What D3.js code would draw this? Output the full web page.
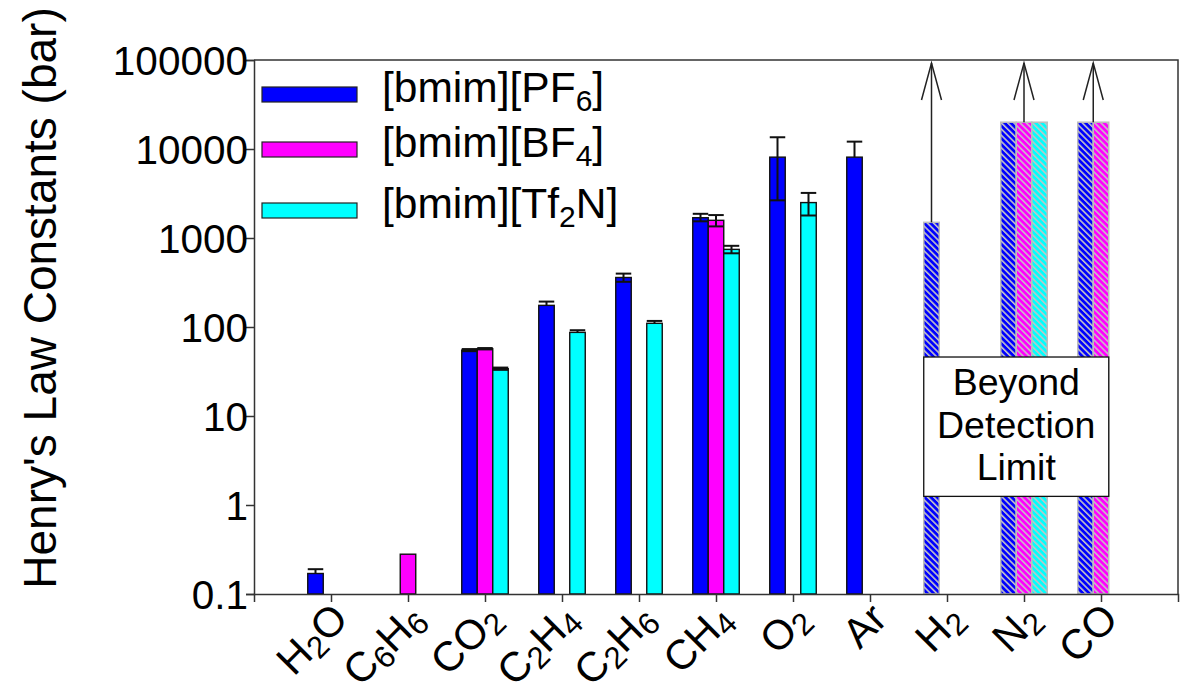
<!DOCTYPE html>
<html><head><meta charset="utf-8">
<script src="https://cdn.jsdelivr.net/npm/d3@7"></script>
<style>html,body{margin:0;padding:0;background:#fff;}svg{display:block;font-family:"Liberation Sans",Arial,sans-serif;}</style>
</head><body><svg id="c" width="1181" height="695"></svg>
<script>
const categories = ["H2O","C6H6","CO2","C2H4","C2H6","CH4","O2","Ar","H2","N2","CO"];
const seriesNames = ["[bmim][PF6]","[bmim][BF4]","[bmim][Tf2N]"];
const seriesColors = ["#0000ff","#ff00ff","#00ffff"];
const pf6  = [0.17, null, 55, 175, 360, 1690, 8100, 8100, 1500, 20000, 20000];
const bf4  = [null, 0.28, 57, null, null, 1580, null, null, null, 20000, 20000];
const tf2n = [null, null, 34, 87, 110, 745, 2500, null, null, 20000, null];
const pf6ErrUp   = [0.02, null, 1.5, 18, 38, 180, 5450, 4000, null, null, null];
const pf6ErrDown = [0,    null, 1.5, 0,  38, 150, 5450, 0,    null, null, null];
const bf4ErrUp   = [null, null, 1, null, null, 230, null, null, null, null, null];
const bf4ErrDown = [null, null, 1, null, null, 230, null, null, null, null, null];
const tf2nErrUp  = [null, null, 1, 5, 7, 72, 710, null, null, null, null];
const tf2nErrDown= [null, null, 1, 0, 0, 72, 710, null, null, null, null];
const beyondLimit = [false,false,false,false,false,false,false,false,true,true,true];
const yTicks = [0.1, 1, 10, 100, 1000, 10000, 100000];
const boxLines = ["Beyond","Detection","Limit"];

const values = [pf6, bf4, tf2n];
const errUp = [pf6ErrUp, bf4ErrUp, tf2nErrUp];
const errDown = [pf6ErrDown, bf4ErrDown, tf2nErrDown];

const svg = d3.select("#c");
const L = 254, R = 1178, T = 60, B = 594;
const x = d3.scalePoint().domain(categories).range([L, R]).padding(1);
const y = d3.scaleLog().domain([0.1, 100000]).range([B, T]);
const bw = 15.5;

// hatch patterns
const defs = svg.append("defs");
seriesColors.forEach((c, i) => {
  const p = defs.append("pattern").attr("id", "h" + i).attr("patternUnits", "userSpaceOnUse")
    .attr("width", 4.4).attr("height", 4.4).attr("patternTransform", "rotate(-45)");
  p.append("rect").attr("width", 4.4).attr("height", 4.4).attr("fill", c);
  p.append("line").attr("x1", 0.8).attr("y1", -1).attr("x2", 0.8).attr("y2", 6)
    .attr("stroke", "#c4c4c4").attr("stroke-width", 1.6);
});

// bars
const barData = [];
categories.forEach((cat, ci) => {
  values.forEach((arr, si) => {
    if (arr[ci] != null) barData.push({cat, ci, si, v: arr[ci], up: errUp[si][ci], down: errDown[si][ci], beyond: beyondLimit[ci]});
  });
});
const bx = d => x(d.cat) + (d.si - 1) * bw - bw / 2;

svg.append("g").selectAll("rect").data(barData).join("rect")
  .attr("x", bx).attr("width", bw)
  .attr("y", d => y(d.v)).attr("height", d => B - y(d.v))
  .attr("fill", d => d.beyond ? "url(#h" + d.si + ")" : seriesColors[d.si])
  .attr("stroke", d => d.beyond ? "#bdbdbd" : "#111")
  .attr("stroke-width", d => d.beyond ? 1.5 : 1.4);

// error bars
const eg = svg.append("g").attr("stroke", "#111").attr("stroke-width", 2);
barData.filter(d => d.up != null).forEach(d => {
  const cx = bx(d) + bw / 2;
  const hi = y(d.v + d.up), lo = y(Math.max(d.v - d.down, 0.1));
  eg.append("line").attr("x1", cx).attr("x2", cx).attr("y1", hi).attr("y2", lo);
  eg.append("line").attr("x1", cx - bw / 2).attr("x2", cx + bw / 2).attr("y1", hi).attr("y2", hi);
  if (d.down > 0) eg.append("line").attr("x1", cx - bw / 2).attr("x2", cx + bw / 2).attr("y1", lo).attr("y2", lo);
});

// arrows for beyond-limit categories
const ag = svg.append("g").attr("stroke", "#222").attr("stroke-width", 1.5).attr("fill", "none");
categories.forEach((cat, ci) => {
  if (!beyondLimit[ci]) return;
  const present = barData.filter(d => d.ci === ci);
  const x0 = d3.min(present, bx), x1 = d3.max(present, d => bx(d) + bw);
  const ax = (x0 + x1) / 2;
  const top = y(d3.max(present, d => d.v));
  const tip = y(100000) + 3;
  ag.append("line").attr("x1", ax).attr("x2", ax).attr("y1", top).attr("y2", tip);
  ag.append("path").attr("d", `M${ax - 10},${tip + 37}L${ax},${tip}L${ax + 10},${tip + 37}`);
});

// annotation box
const bxL = x("H2") - 1.5 * bw, bxR = x("CO") + 0.5 * bw;
const byT = y(46), byB = y(1.25);
svg.append("rect").attr("x", bxL).attr("y", byT).attr("width", bxR - bxL).attr("height", byB - byT)
  .attr("fill", "#fff").attr("stroke", "#111").attr("stroke-width", 1.3);
svg.append("g").selectAll("text").data(boxLines).join("text")
  .attr("x", (bxL + bxR) / 2).attr("y", (d, i) => byT + 38 + i * 42.5)
  .attr("text-anchor", "middle").attr("font-size", 37.5).attr("fill", "#000").text(d => d);

// axes
const yAxis = d3.axisLeft(y).tickValues(yTicks).tickFormat(d => String(d)).tickSize(8).tickPadding(-2);
const gy = svg.append("g").attr("transform", `translate(${L},0)`).call(yAxis);
gy.selectAll("text").attr("font-size", 40.5).attr("fill", "#000").attr("dy", "0.36em");
const xAxis = d3.axisBottom(x).tickSize(8).tickFormat("");
const gx = svg.append("g").attr("transform", `translate(0,${B})`).call(xAxis);
[gy, gx].forEach(g => { g.select(".domain").attr("stroke", "#333").attr("stroke-width", 1.5); g.selectAll(".tick line").attr("stroke", "#333").attr("stroke-width", 1.5); });
// frame top & right
svg.append("path").attr("d", `M${L},${T}H${R}V${B}`).attr("fill", "none").attr("stroke", "#333").attr("stroke-width", 1.5);

// x labels with subscripts
function addChem(textSel, label, subSize) {
  const parts = label.match(/[A-Za-z]+|\d+/g);
  parts.forEach(p => {
    const isNum = /\d/.test(p);
    const t = textSel.append("tspan").text(p);
    if (isNum) t.attr("font-size", subSize).attr("baseline-shift", "-20%");
  });
}
categories.forEach(cat => {
  const t = svg.append("text").attr("text-anchor", "end").attr("font-size", 41.5).attr("fill", "#000")
    .attr("transform", `translate(${x(cat) + 19},${B + 27}) rotate(-45)`);
  addChem(t, cat, 31);
});

// y title
svg.append("text").attr("transform", `translate(56,${(T + B) / 2 - 29}) rotate(-90)`)
  .attr("text-anchor", "middle").attr("font-size", 46).attr("fill", "#000").text("Henry's Law Constants (bar)");

// legend
const legendRows = [94.5, 149.5, 210.5];
const lg = svg.append("g");
seriesNames.forEach((name, i) => {
  const cy = legendRows[i];
  lg.append("rect").attr("x", 262).attr("y", cy - 7.5).attr("width", 95).attr("height", 15)
    .attr("fill", seriesColors[i]).attr("stroke", "#222").attr("stroke-width", 1.2);
  const t = lg.append("text").attr("x", 382).attr("y", cy + 7.5).attr("font-size", 42.5).attr("fill", "#000");
  const m = name.match(/^(.*?)(\d)(.*)$/);
  t.append("tspan").text(m[1]);
  t.append("tspan").text(m[2]).attr("font-size", 30).attr("baseline-shift", "-30%");
  t.append("tspan").text(m[3]);
});
</script></body></html>
